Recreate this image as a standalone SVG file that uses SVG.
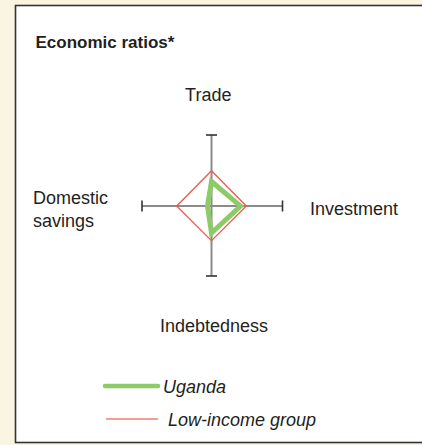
<svg xmlns="http://www.w3.org/2000/svg" width="422" height="445" viewBox="0 0 422 445">
  <style>
    .lbl { font-family: "Liberation Sans", Arial, sans-serif; font-size: 18px; fill: #231f20; }
    .title { font-family: "Liberation Sans", Arial, sans-serif; font-size: 17px; font-weight: bold; fill: #231f20; }
    .leg { font-family: "Liberation Sans", Arial, sans-serif; font-size: 18px; font-style: italic; fill: #231f20; }
    .axis { stroke: #8c8a8a; stroke-width: 2; fill: none; }
    .tick { stroke: #333; stroke-width: 1.6; fill: none; }
  </style>
  <rect x="0" y="0" width="422" height="445" fill="#f9f5e2"/>
  <rect x="15.5" y="5.5" width="420" height="437" fill="#ffffff" stroke="#333333" stroke-width="1.6"/>
  <g id="title"><text class="title" x="35.5" y="48">Economic ratios*</text></g>

  <g id="axes">
    <line class="axis" x1="211.5" y1="135" x2="211.5" y2="276"/>
    <line class="axis" x1="142" y1="206" x2="282.5" y2="206"/>
    <line class="tick" x1="206" y1="135" x2="217" y2="135"/>
    <line class="tick" x1="206" y1="276" x2="217" y2="276"/>
    <line class="tick" x1="142" y1="200.5" x2="142" y2="211.5"/>
    <line class="tick" x1="282.5" y1="200.5" x2="282.5" y2="211.5"/>
  </g>

  <g id="series">
    <polygon id="low-income" points="211.5,170.7 246.3,206 211.5,240.7 176.7,206" fill="none" stroke="#ee5a4e" stroke-width="1.3"/>
    <polygon id="uganda" points="211.5,181.5 240.5,206 211.5,233 207.5,206" fill="none" stroke="#8dcb6a" stroke-width="5" stroke-linejoin="miter"/>
  </g>

  <g id="label-trade"><text class="lbl" x="208.3" y="101" text-anchor="middle">Trade</text></g>
  <g id="label-investment"><text class="lbl" x="310" y="214.5">Investment</text></g>
  <g id="label-domestic"><text class="lbl" x="33" y="204">Domestic</text><text class="lbl" x="33" y="226.5">savings</text></g>
  <g id="label-indebtedness"><text class="lbl" x="214" y="332" text-anchor="middle">Indebtedness</text></g>

  <g id="legend">
    <line x1="105" y1="386" x2="158" y2="386" stroke="#8dcb6a" stroke-width="4.5" stroke-linecap="round"/>
    <text class="leg" x="163" y="393">Uganda</text>
    <line x1="106" y1="419" x2="158" y2="419" stroke="#e8402f" stroke-width="1.2"/>
    <text class="leg" x="168" y="426">Low-income group</text>
  </g>
</svg>
